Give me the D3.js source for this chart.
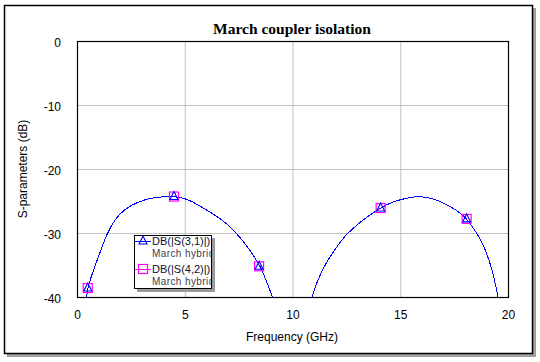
<!DOCTYPE html>
<html>
<head>
<meta charset="utf-8">
<script src="https://cdn.jsdelivr.net/npm/d3@7"></script>
<style>
body { margin: 0; background: #fff; }
svg { display: block; }
</style>
</head>
<body>
<svg id="chart" width="540" height="362"></svg>
<script>
// ---- data ----
const title = "March coupler isolation";
const xTicks = [0, 5, 10, 15, 20];
const yTicks = [0, -10, -20, -30, -40];
const xLabel = "Frequency (GHz)";
const yLabel = "S-parameters (dB)";

const freqA = [0.40, 0.44, 0.50, 0.65, 0.84, 1.15, 1.38, 1.76, 2.23, 2.84, 3.47, 4.08, 4.50, 4.90, 5.30, 5.71, 6.32, 6.95, 7.33, 7.87, 8.26, 8.50, 8.72, 9.08, 9.16];
const s31A  = [-41.5, -40.0, -38.6, -36.9, -35.1, -32.3, -30.2, -27.8, -26.2, -25.1, -24.5, -24.3, -24.3, -24.5, -25.0, -25.8, -27.0, -28.5, -29.8, -31.9, -33.9, -35.2, -36.9, -40.0, -41.5];
const s42A  = [-41.5, -40.0, -38.6, -36.9, -35.1, -32.3, -30.2, -27.8, -26.2, -25.1, -24.5, -24.3, -24.3, -24.5, -25.0, -25.8, -27.0, -28.5, -29.8, -31.9, -33.9, -35.2, -36.9, -40.0, -41.5];

const freqB = [10.84, 10.89, 11.12, 11.43, 11.89, 12.36, 12.51, 13.13, 13.75, 14.09, 14.52, 14.99, 15.45, 15.80, 16.23, 16.69, 17.31, 17.85, 18.08, 18.55, 18.93, 19.24, 19.55, 19.60];
const s31B  = [-41.5, -40.0, -37.8, -35.4, -32.9, -30.8, -30.2, -28.3, -26.8, -26.1, -25.3, -24.8, -24.45, -24.3, -24.4, -24.8, -25.8, -27.0, -27.8, -29.9, -32.4, -35.3, -40.0, -41.5];
const s42B  = [-41.5, -40.0, -37.8, -35.4, -32.9, -30.8, -30.2, -28.3, -26.8, -26.1, -25.3, -24.8, -24.45, -24.3, -24.4, -24.8, -25.8, -27.0, -27.8, -29.9, -32.4, -35.3, -40.0, -41.5];

const markerFreq = [0.50, 4.50, 8.45, 14.09, 18.08];
const marker31 = [-38.6, -24.3, -35.2, -26.1, -27.8];
const marker42 = [-38.6, -24.3, -35.2, -26.1, -27.8];

const legendNames = ["DB(|S(3,1)|)", "DB(|S(4,2)|)"];
const legendSub = "March hybrid";

// ---- drawing ----
const svg = d3.select("#chart");
const L = 77, R = 508, T = 41, B = 297;
const x = d3.scaleLinear().domain([0, 20]).range([L, R]);
const y = d3.scaleLinear().domain([-40, 0]).range([B, T]);

// outer frame with shadow
svg.append("rect").attr("x", 7).attr("y", 8).attr("width", 529).attr("height", 349).attr("fill", "#a0a0a0");
svg.append("rect").attr("x", 4.5).attr("y", 5.5).attr("width", 528).attr("height", 348)
  .attr("fill", "#fff").attr("stroke", "#000").attr("stroke-width", 1.5);

// title
svg.append("text").attr("x", 292).attr("y", 34).attr("text-anchor", "middle")
  .attr("font-family", "Liberation Serif, Times New Roman, serif").attr("font-weight", "bold")
  .attr("font-size", 15.5).attr("fill", "#000").text(title);

// grid
const g = svg.append("g");
g.selectAll("line.gx").data(xTicks.filter(d => d > 0 && d < 20)).enter().append("line")
  .attr("x1", d => x(d) + 0.5).attr("x2", d => x(d) + 0.5).attr("y1", T).attr("y2", B)
  .attr("stroke", "#c0c0c0").attr("stroke-width", 1);
g.selectAll("line.gy").data(yTicks.filter(d => d < 0 && d > -40)).enter().append("line")
  .attr("x1", L).attr("x2", R).attr("y1", d => Math.round(y(d)) + 0.5).attr("y2", d => Math.round(y(d)) + 0.5)
  .attr("stroke", "#c0c0c0").attr("stroke-width", 1);

// axes (labels only)
const fmt = d => String(d);
const xAxis = d3.axisBottom(x).tickValues(xTicks).tickFormat(fmt).tickSize(0).tickPadding(13);
const yAxis = d3.axisLeft(y).tickValues(yTicks).tickFormat(fmt).tickSize(0).tickPadding(16);
const gx = svg.append("g").attr("transform", `translate(0,${B})`).call(xAxis);
const gy = svg.append("g").attr("transform", `translate(${L},0)`).call(yAxis);
[gx, gy].forEach(a => {
  a.select(".domain").remove();
  a.selectAll("text").attr("font-family", "Liberation Sans, Arial, sans-serif").attr("font-size", 12).attr("fill", "#000");
});
gy.selectAll("text").attr("dy", "0.45em");

// plot border
svg.append("rect").attr("x", L + 0.5).attr("y", T + 0.5).attr("width", R - L).attr("height", B - T)
  .attr("fill", "none").attr("stroke", "#000").attr("stroke-width", 1.2);

// axis titles
svg.append("text").attr("x", 292).attr("y", 341).attr("text-anchor", "middle")
  .attr("font-family", "Liberation Sans, Arial, sans-serif").attr("font-size", 12).text(xLabel);
svg.append("text").attr("transform", "translate(27,169) rotate(-90)").attr("text-anchor", "middle")
  .attr("font-family", "Liberation Sans, Arial, sans-serif").attr("font-size", 12).text(yLabel);

// clip
svg.append("clipPath").attr("id", "clip").append("rect")
  .attr("x", L).attr("y", T).attr("width", R - L).attr("height", B - T);

const line = d3.line().x(d => x(d[0])).y(d => y(d[1])).curve(d3.curveBasis);
const plot = svg.append("g").attr("clip-path", "url(#clip)");
const series = [
  { segs: [d3.zip(freqA, s42A), d3.zip(freqB, s42B)], color: "#ff00ff" },
  { segs: [d3.zip(freqA, s31A), d3.zip(freqB, s31B)], color: "#0000ff" }
];
series.forEach(s => {
  s.segs.forEach(seg => {
    plot.append("path").datum(seg).attr("d", line).attr("fill", "none")
      .attr("stroke", s.color).attr("stroke-width", 1).attr("shape-rendering", "crispEdges");
  });
});

// markers
function square(sel, cx, cy) {
  sel.append("rect").attr("x", cx - 4.5).attr("y", cy - 4.5).attr("width", 9).attr("height", 9)
    .attr("fill", "none").attr("stroke", "#ff00ff").attr("stroke-width", 1.2);
}
function triangle(sel, cx, cy) {
  sel.append("path").attr("d", `M${cx},${cy - 5} L${cx + 4},${cy + 3} L${cx - 4},${cy + 3} Z`)
    .attr("fill", "none").attr("stroke", "#0000ff").attr("stroke-width", 1.1);
}
markerFreq.forEach((f, i) => {
  square(svg, x(f), y(marker42[i]));
  triangle(svg, x(f), y(marker31[i]));
});

// legend
const lg = svg.append("g");
lg.append("rect").attr("x", 137).attr("y", 238).attr("width", 78).attr("height", 54).attr("fill", "#9a9a9a");
lg.append("rect").attr("x", 134.5).attr("y", 235.5).attr("width", 77).attr("height", 53)
  .attr("fill", "#fff").attr("stroke", "#000").attr("stroke-width", 1);
svg.append("clipPath").attr("id", "lclip").append("rect")
  .attr("x", 135).attr("y", 236).attr("width", 76).attr("height", 52);
const lt = lg.append("g").attr("clip-path", "url(#lclip)");
[0, 1].forEach(i => {
  const yy = 241 + i * 28;
  const col = i === 0 ? "#0000ff" : "#ff00ff";
  lt.append("line").attr("x1", 135).attr("x2", 151).attr("y1", yy + 0.5).attr("y2", yy + 0.5)
    .attr("stroke", col).attr("stroke-width", 1);
  if (i === 0) triangle(lt, 143, yy); else square(lt, 143, yy);
  lt.append("text").attr("x", 152).attr("y", yy + 4).attr("font-family", "Liberation Sans, Arial, sans-serif")
    .attr("font-size", 11).attr("letter-spacing", 0).attr("fill", "#101030").text(legendNames[i]);
  lt.append("text").attr("x", 152).attr("y", yy + 16).attr("font-family", "Liberation Sans, Arial, sans-serif")
    .attr("font-size", 10).attr("letter-spacing", 0.4).attr("fill", "#404050").text(legendSub);
});
</script>
</body>
</html>
